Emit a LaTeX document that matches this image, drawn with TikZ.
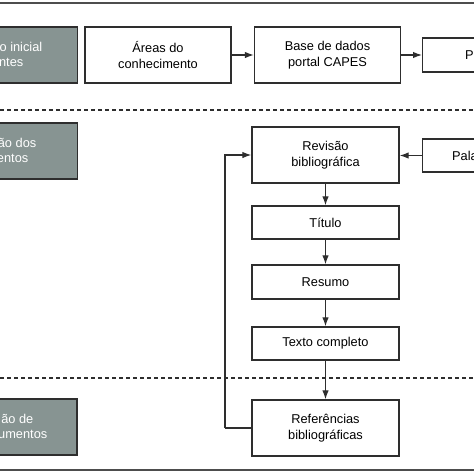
\documentclass[tikz,border=0pt]{standalone}
\usepackage{fontspec}
\setmainfont{Liberation Sans}
\usetikzlibrary{arrows.meta}
\definecolor{grayfill}{HTML}{879492}
\definecolor{linec}{HTML}{2E2E2E}
\tikzset{
  txt/.style={font=\fontsize{12.8}{16}\selectfont, text=black},
  box/.style={draw=linec, line width=1.3pt, fill=white, align=center, inner sep=0pt, txt},
  graybox/.style={draw=linec, line width=1.3pt, fill=grayfill},
  graytxt/.style={font=\fontsize{12.8}{16}\selectfont, text=white, inner sep=0pt, anchor=east},
  arr/.style={draw=linec, line width=1.2pt, -{Latex[length=9pt,width=6.5pt]}},
  plain/.style={draw=linec, line width=1.2pt},
  sep/.style={draw=linec, line width=1.1pt, dash pattern=on 4pt off 3pt},
  frame/.style={draw=linec!85, line width=1.6pt}
}
\begin{document}
\begin{tikzpicture}[x=1pt,y=-1pt]
\useasboundingbox (0,0) rectangle (474,474);
% frame lines
\draw[frame] (0,3) -- (474,3);
\draw[frame] (0,470) -- (474,470);
% separators
\draw[sep] (0,110) -- (474,110);
\draw[sep] (0,378) -- (474,378);
% gray boxes
\draw[graybox] (-5,27) rectangle (77.5,83);
\draw[graybox] (-5,123) rectangle (77.5,179);
\draw[graybox] (-5,399) rectangle (77,455);
\node[graytxt] (g1a) at (42.5,47) {o inicial};
\node[graytxt] (g1b) at (23.5,62) {ntes};
\node[graytxt] (g2a) at (36.5,143) {ão dos};
\node[graytxt] (g2b) at (28.5,158) {entos};
\node[graytxt] (g3a) at (33.5,419) {ão de};
\node[graytxt] (g3b) at (47.5,434) {umentos};
% top row
\node[box, minimum width=146pt, minimum height=56pt] (areas) at (158,55) {Áreas do\\conhecimento};
\node[box, minimum width=146pt, minimum height=56pt] (base) at (327.5,55) {Base de dados\\portal CAPES};
\node[box, minimum width=100pt, minimum height=34pt, anchor=west, text width=96pt, align=left] (p) at (422,55) {\hspace*{40.5pt}Pa};
\draw[arr] (areas) -- (base);
\draw[arr] (base) -- (p);
% column
\node[box, minimum width=147pt, minimum height=56pt] (rev) at (325.5,155) {Revisão\\bibliográfica};
\node[box, minimum width=100pt, minimum height=33pt, anchor=west, text width=96pt, align=left] (pala) at (422,155.5) {\hspace*{27.5pt}Pala};
\node[box, minimum width=147pt, minimum height=33pt] (tit) at (325.5,222.5) {Título};
\node[box, minimum width=147pt, minimum height=34pt] (res) at (325.5,282) {Resumo};
\node[box, minimum width=147pt, minimum height=33pt] (tex) at (325.5,343.5) {Texto completo};
\node[box, minimum width=147pt, minimum height=56pt] (ref) at (325.5,428) {Referências\\bibliográficas};
\draw[arr] (pala.west) -- (rev.east |- pala.west);
\draw[arr] (rev) -- (tit);
\draw[arr] (tit) -- (res);
\draw[arr] (res) -- (tex);
\draw[arr] (tex) -- (ref);
\coordinate (fb) at (225,428);
\draw[plain] (ref.west) -- (fb);
\draw[arr] (fb) |- (rev.west);
\end{tikzpicture}
\end{document}
